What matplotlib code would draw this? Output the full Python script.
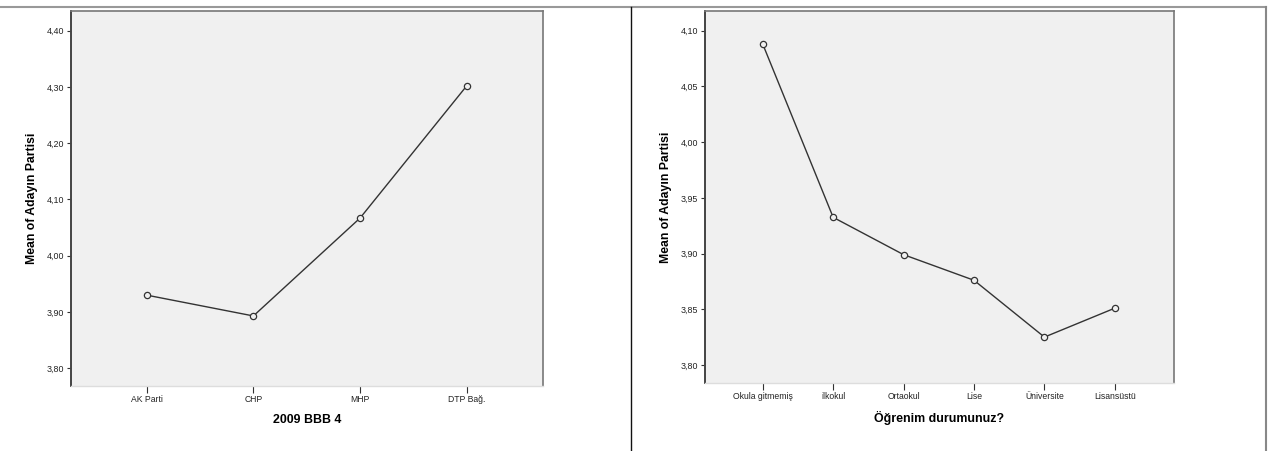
import matplotlib
matplotlib.use("Agg")
import matplotlib.pyplot as plt
from matplotlib.lines import Line2D

plt.rcParams['font.family'] = ['Liberation Sans', 'DejaVu Sans']

# Left chart data
left_categories = ["AK Parti", "CHP", "MHP", "DTP Bağ."]
left_values = [3.930, 3.893, 4.067, 4.302]
left_yticks = [3.80, 3.90, 4.00, 4.10, 4.20, 4.30, 4.40]
left_xlabel = "2009 BBB 4"

# Right chart data
right_categories = ["Okula gitmemiş", "ilkokul", "Ortaokul", "Lise", "Üniversite", "Lisansüstü"]
right_values = [4.088, 3.9325, 3.899, 3.876, 3.825, 3.851]
right_yticks = [3.80, 3.85, 3.90, 3.95, 4.00, 4.05, 4.10]
right_xlabel = "Öğrenim durumunuz?"

ylabel = "Mean of Adayın Partisi"

W, H = 1272, 451
fig = plt.figure(figsize=(W / 100, H / 100), dpi=100)
fig.patch.set_facecolor("white")


def fmt(v):
    return f"{v:.2f}".replace(".", ",")


def make_axes(rect, cats, vals, yticks, ylim, xlim, xlabel):
    ax = fig.add_axes(rect)
    ax.set_facecolor("#f0f0f0")
    x = list(range(len(cats)))
    ax.plot(x, vals, color="#333333", lw=1.0, marker="o", ms=4.5,
            mfc="#f0f0f0", mec="#333333", mew=0.9, zorder=3)
    ax.set_xlim(*xlim)
    ax.set_ylim(*ylim)
    ax.set_xticks(x)
    ax.set_xticklabels(cats, fontsize=6.2, color="#222222")
    ax.set_yticks(yticks)
    ax.set_yticklabels([fmt(v) for v in yticks], fontsize=6.4, color="#222222")
    ax.tick_params(axis="y", length=3, width=0.8, pad=2, color="#333333")
    ax.tick_params(axis="x", length=5, width=0.8, pad=1.5, color="#333333")
    ax.spines["left"].set_color("#444444")
    ax.spines["left"].set_linewidth(1.4)
    ax.spines["top"].set_color("#777777")
    ax.spines["top"].set_linewidth(1.2)
    ax.spines["right"].set_color("#777777")
    ax.spines["right"].set_linewidth(1.2)
    ax.spines["bottom"].set_color("#dddddd")
    ax.spines["bottom"].set_linewidth(1.0)
    ax.set_ylabel(ylabel, fontsize=8.8, fontweight="bold", labelpad=6)
    ax.set_xlabel(xlabel, fontsize=8.9, fontweight="bold", labelpad=7)
    return ax


axL = make_axes([71 / W, 1 - 386 / H, (543 - 71) / W, (386 - 11) / H],
                left_categories, left_values, left_yticks,
                (3.7685, 4.435), (-0.71, 3.715), left_xlabel)
axR = make_axes([705 / W, 1 - 383 / H, (1174 - 705) / W, (383 - 11) / H],
                right_categories, right_values, right_yticks,
                (3.7838, 4.1177), (-0.82, 5.84), right_xlabel)

# Outer frame lines
fig.add_artist(Line2D([0, 1266 / W], [1 - 6.5 / H, 1 - 6.5 / H], color="#999999", lw=1.5,
                      transform=fig.transFigure))
fig.add_artist(Line2D([631 / W, 631 / W], [0, 1 - 7 / H], color="#111111", lw=1.0,
                      transform=fig.transFigure))
fig.add_artist(Line2D([1266 / W, 1266 / W], [0, 1 - 6.5 / H], color="#888888", lw=1.5,
                      transform=fig.transFigure))

fig.savefig("out.png", dpi=100, facecolor="white")
